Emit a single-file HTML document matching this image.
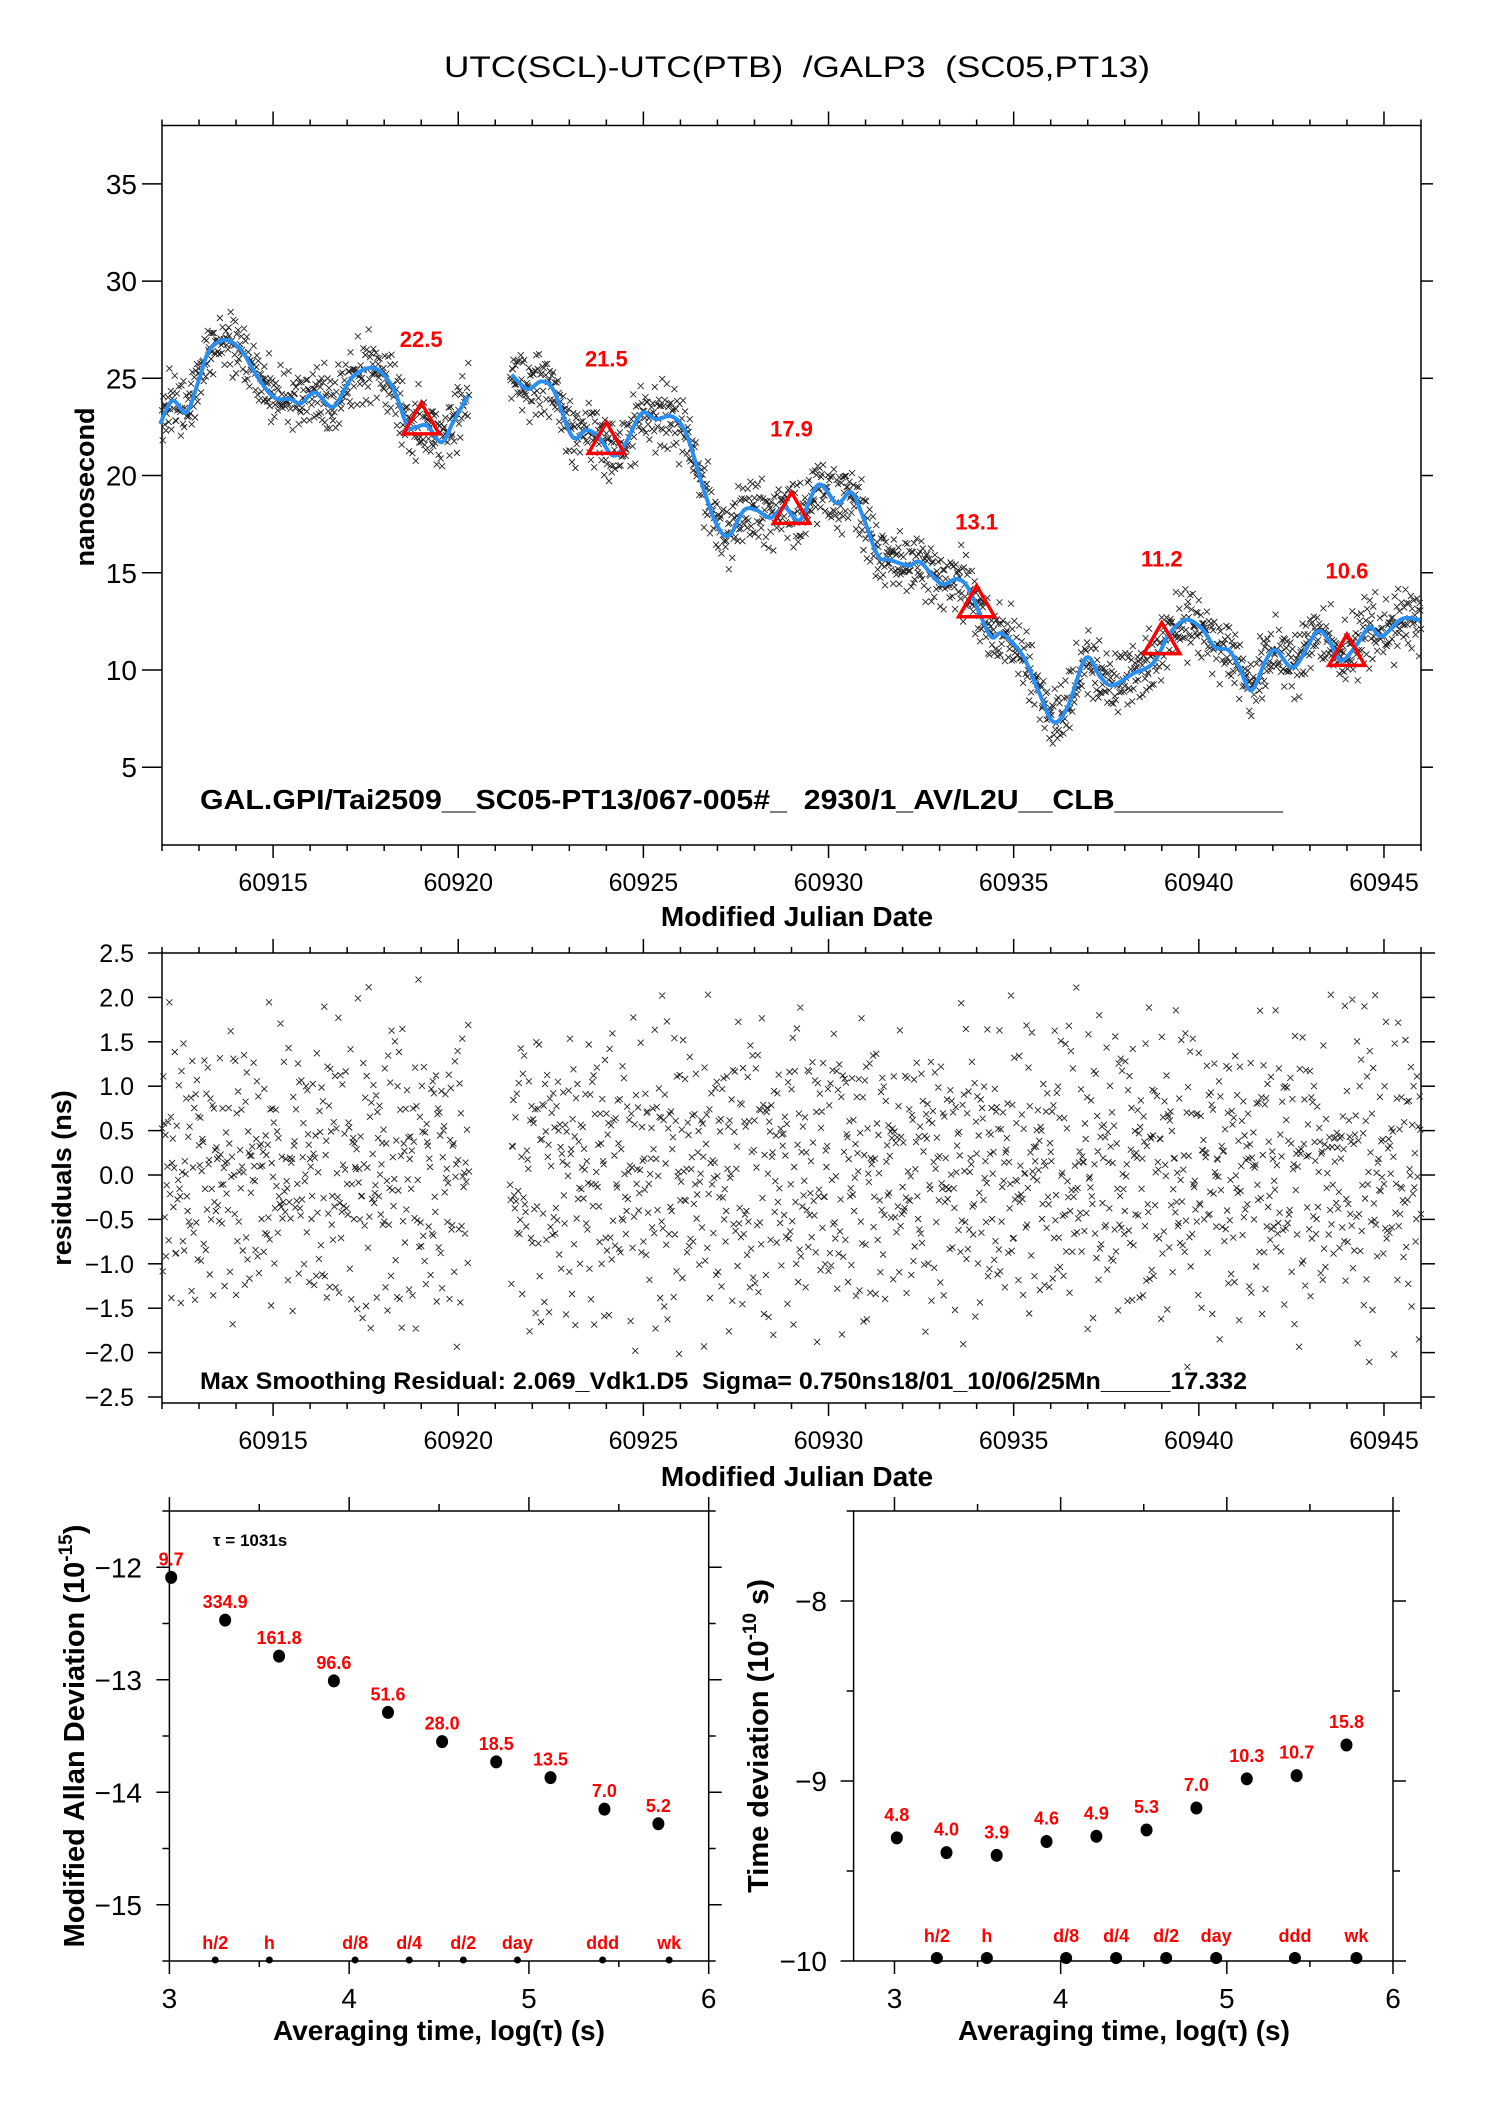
<!DOCTYPE html>
<html><head><meta charset="utf-8"><title>UTC(SCL)-UTC(PTB) GALP3</title>
<style>
html,body{margin:0;padding:0;background:#fff;}
svg{display:block;font-family:"Liberation Sans",Arial,sans-serif;}
.tk{fill:#000;}
.bt{font-weight:bold;fill:#000;}
.rd{font-weight:bold;fill:#ff0000;}
</style></head>
<body>
<svg id="fig" width="1488" height="2105" viewBox="0 0 1488 2105" xmlns="http://www.w3.org/2000/svg">
<rect x="0" y="0" width="1488" height="2105" fill="#fff"/>
<text x="797" y="77" font-size="30" text-anchor="middle" xml:space="preserve" textLength="706" lengthAdjust="spacingAndGlyphs">UTC(SCL)-UTC(PTB)  /GALP3  (SC05,PT13)</text>

<g id="topPanel"></g>
<g id="resPanel"></g>
<g id="mdevPanel"></g>
<g id="tdevPanel"></g>

<text class="bt" font-size="27" transform="translate(94,487) rotate(-90)" text-anchor="middle">nanosecond</text>
<text class="bt" font-size="28" x="797" y="926" text-anchor="middle">Modified Julian Date</text>
<text class="bt" font-size="28" x="200" y="809" xml:space="preserve" textLength="1083" lengthAdjust="spacingAndGlyphs">GAL.GPI/Tai2509__SC05-PT13/067-005#_  2930/1_AV/L2U__CLB__________</text>

<text class="bt" font-size="27" transform="translate(71,1178) rotate(-90)" text-anchor="middle">residuals (ns)</text>
<text class="bt" font-size="28" x="797" y="1486" text-anchor="middle">Modified Julian Date</text>
<text class="bt" font-size="24" x="200" y="1389" xml:space="preserve" textLength="1047" lengthAdjust="spacingAndGlyphs">Max Smoothing Residual: 2.069_Vdk1.D5  Sigma= 0.750ns18/01_10/06/25Mn_____17.332</text>

<text class="bt" font-size="29" transform="translate(84,1736) rotate(-90)" text-anchor="middle">Modified Allan Deviation (10<tspan font-size="19" dy="-12">-15</tspan><tspan dy="12">)</tspan></text>
<text class="bt" font-size="28" x="439" y="2040" text-anchor="middle">Averaging time, log(τ) (s)</text>
<text class="bt" font-size="17" x="213" y="1546">τ = 1031s</text>

<text class="bt" font-size="29" transform="translate(768,1736) rotate(-90)" text-anchor="middle">Time deviation (10<tspan font-size="19" dy="-12">-10</tspan><tspan dy="12"> s)</tspan></text>
<text class="bt" font-size="28" x="1124" y="2040" text-anchor="middle">Averaging time, log(τ) (s)</text>
</svg>

<script>
const curveMjdA = [60911.95,60912.28,60912.66,60912.99,60913.27,60913.71,60914.15,60914.59,60915.03,60915.47,60915.75,60916.13,60916.63,60917.13,60917.73,60918.23,60918.62,60918.83,60919.16,60919.55,60919.88,60920.27];
const curveValA = [22.65,23.85,23.25,24.88,26.42,26.97,26.42,25.04,24.02,23.93,23.71,24.27,23.54,25.04,25.52,24.53,22.56,22.48,22.56,21.71,22.82,24.10];
const curveMjdB = [60921.45,60921.87,60922.25,60922.58,60923.08,60923.46,60923.80,60924.18,60924.51,60924.95,60925.34,60925.78,60926.16,60926.61,60926.99,60927.32,60927.71,60928.04,60928.43,60928.81,60929.23,60929.73,60930.23,60930.61,60930.94,60931.33,60931.66,60932.16,60932.48,60933.04,60933.48,60933.81,60934.36,60934.69,60935.24,60935.68,60936.07,60936.46,60936.95,60937.34,60937.67,60938.22,60938.77,60939.21,60939.65,60940.09,60940.43,60940.81,60941.09,60941.42,60941.80,60942.08,60942.57,60943.18,60943.51,60943.84,60944.22,60944.61,60944.94,60945.49,60945.99];
const curveValB = [25.18,24.45,24.84,24.36,22.00,22.34,21.97,21.03,21.62,23.19,22.90,23.03,22.14,19.40,17.43,16.92,18.20,18.24,17.83,18.37,17.72,19.53,18.57,19.14,17.85,15.89,15.66,15.37,15.54,14.43,14.68,14.09,11.78,11.87,10.75,8.87,7.33,8.10,10.62,9.64,9.21,9.81,10.36,11.87,12.58,12.12,11.18,11.01,10.15,8.95,10.46,11.01,10.15,11.95,11.52,10.49,11.18,12.20,11.73,12.63,12.55];
const segStart = [60912.0, 60921.4];
const segEnd = [60920.3, 60946.0];
const sampleStepDays = 1/55;
const residuals = [0.3,-0.8,1.2,0.1,-0.4,0.9,-1.5,0.5,-0.1,0.7,-0.6,1.6,-0.2,0.4,-1.1,0.0,0.8,-0.9,0.2,1.1,
-0.3,-1.3,0.6,0.1,-0.7,1.4,-0.5,0.3,-1.8,0.9,0.2,-0.4,1.0,-1.0,0.5,-0.2,1.7,-0.6,0.0,0.4,
-1.2,0.8,-0.3,0.6,-0.9,1.3,0.1,-0.5,0.2,-1.6,0.7,-0.1,1.1,-0.8,0.3,0.5,-0.4,1.5,-1.4,0.0,
0.9,-0.2,-0.7,1.2,0.4,-1.1,0.6,-0.3,1.9,-0.6,0.2,-1.0,0.8,0.1,-0.5,1.4,-1.7,0.3,-0.2,0.7,
-0.9,1.0,0.0,-0.4,0.5,-1.3,1.6,-0.1,0.4,-0.8,1.2,-0.6,0.2,-2.0,0.9,0.3,-0.3,0.6,-1.1,1.1,
0.1,-0.7,1.8,-0.5,0.4,-1.5,0.8,0.0,-0.2,1.3,-0.9,0.5,-0.4,1.0,-1.2,0.2,0.7,-0.6,1.5,-0.1,
-1.0,0.3,0.9,-1.4,0.6,-0.3,1.2,-0.8,0.1,0.4,-1.9,1.0,-0.5,0.2,0.8,-0.7,1.7,-0.2,0.5,-1.1,
0.0,1.4,-0.6,0.3,-1.3,0.7,-0.1,1.1,-0.9,0.6,0.2,-1.6,1.3,-0.4,0.1,0.9,-1.0,0.4,-0.3,1.6,
-0.8,0.5,-1.2,0.0,1.2,-0.5,0.8,-1.7,0.3,0.6,-0.2,1.0,-1.4,0.7,-0.6,0.2,1.9,-0.9,0.4,-0.1,
-1.1,1.5,0.1,-0.7,0.9,-0.4,0.3,-1.5,1.1,-0.2,0.6,-1.0,0.8,0.0,-1.8,1.3,-0.3,0.5,-0.8,1.4,
-0.5,0.2,1.0,-1.2,0.7];
const residualsB = [0.6,-0.9,0.2,1.1,-0.3,-0.7,0.8,-1.2,0.4,0.0,-0.5,1.3,-0.1,0.7,-1.0,0.3,-0.6,0.9,
-0.2,1.0,-1.4,0.5,0.1,-0.8,1.2,-0.4,0.6,-1.1,0.2,0.9,-0.3,-0.9,1.4,0.0,-0.6,0.4,-1.3];
const triMjd = [60919,60924,60929,60934,60939,60944];
const triVal = [22.5,21.5,17.9,13.1,11.2,10.6];
const triLabels = ["22.5","21.5","17.9","13.1","11.2","10.6"];
const topYTicks = [5,10,15,20,25,30,35];
const mjdTicks = [60915,60920,60925,60930,60935,60940,60945];
const resYTicks = [-2.5,-2.0,-1.5,-1.0,-0.5,0.0,0.5,1.0,1.5,2.0,2.5];
const mdevLogTau = [3.01,3.31,3.61,3.915,4.216,4.517,4.818,5.12,5.42,5.72];
const mdevVal = [-12.09,-12.47,-12.79,-13.01,-13.29,-13.55,-13.73,-13.87,-14.15,-14.28];
const mdevLabels = ["9.7","334.9","161.8","96.6","51.6","28.0","18.5","13.5","7.0","5.2"];
const tdevLogTau = [3.014,3.313,3.615,3.915,4.215,4.517,4.817,5.12,5.42,5.72];
const tdevVal = [-9.316,-9.398,-9.413,-9.336,-9.307,-9.272,-9.15,-8.988,-8.97,-8.80];
const tdevLabels = ["4.8","4.0","3.9","4.6","4.9","5.3","7.0","10.3","10.7","15.8"];
const refLogTau = [3.255,3.556,4.033,4.334,4.635,4.936,5.41,5.78];
const refLabels = ["h/2","h","d/8","d/4","d/2","day","ddd","wk"];
const logTicks = [3,4,5,6];
const mdevYTicks = [-12,-13,-14,-15];
const tdevYTicks = [-8,-9,-10];

const NS='http://www.w3.org/2000/svg';
function mk(parent, tag, attrs, name){
  const el=document.createElementNS(NS,tag);
  for(const a in attrs) el.setAttribute(a,attrs[a]);
  
  
  parent.appendChild(el); return el;
}
function line(p,x1,y1,x2,y2,name,w){ return mk(p,'line',{x1:x1,y1:y1,x2:x2,y2:y2,stroke:'#000','stroke-width':w||1.5},name); }
function txt(p,x,y,s,cls,size,anchor,name){
  const t=mk(p,'text',{x:x,y:y,'class':cls,'font-size':size,'text-anchor':anchor||'middle'},name);
  t.textContent=s; return t;
}
function fmtNeg(v,d){ const s=Math.abs(v).toFixed(d); return v<0?'\u2212'+s:s; }
function interp(xs,ys,x){
  if(x<=xs[0]) return ys[0];
  for(let i=1;i<xs.length;i++){ if(x<=xs[i]){ const f=(x-xs[i-1])/(xs[i]-xs[i-1]); return ys[i-1]+f*(ys[i]-ys[i-1]); } }
  return ys[ys.length-1];
}
function smoothPath(pts){
  let d='M'+pts[0][0].toFixed(1)+' '+pts[0][1].toFixed(1);
  for(let i=0;i<pts.length-1;i++){
    const p0=pts[i-1]||pts[i], p1=pts[i], p2=pts[i+1], p3=pts[i+2]||p2;
    const c1x=p1[0]+(p2[0]-p0[0])/6, c1y=p1[1]+(p2[1]-p0[1])/6;
    const c2x=p2[0]-(p3[0]-p1[0])/6, c2y=p2[1]-(p3[1]-p1[1])/6;
    d+=' C'+c1x.toFixed(1)+' '+c1y.toFixed(1)+' '+c2x.toFixed(1)+' '+c2y.toFixed(1)+' '+p2[0].toFixed(1)+' '+p2[1].toFixed(1);
  }
  return d;
}

const PX0=162, PX1=1421;
const xMjd = m => PX0+(m-60912)*(PX1-PX0)/34;
const TY0=125.5, TY1=845;
const yTop = v => TY1-(v-1)*(TY1-TY0)/37;
const RY0=953, RY1=1403;
const yRes = r => RY0+(2.5-r)*88.8;
const LX0=169.4, LX1=708.7, BY0=1511, BY1=1961;
const lx = t => LX0+(t-3)*(LX1-LX0)/3;
const ly = v => BY0+(-11.5-v)*(BY1-BY0)/4;
const RX0=853.6, RX1=1393;
const rx = t => RX0+(t-2.754)*(RX1-RX0)/3.246;
const ry = v => BY0+(-7.5-v)*(BY1-BY0)/2.5;

const sampT=[], sampR=[];
let cnt=0;
for(let s=0;s<segStart.length;s++){
  for(let t=segStart[s]; t<=segEnd[s]; t+=sampleStepDays){
    sampT.push(t);
    sampR.push(residuals[cnt%residuals.length]*0.85+residualsB[cnt%residualsB.length]*0.45);
    cnt++;
  }
}
function curveAt(t){ return t<60921 ? interp(curveMjdA,curveValA,t) : interp(curveMjdB,curveValB,t); }

function mjdFrame(g,y0,y1,prefix){
  mk(g,'rect',{x:PX0,y:y0,width:PX1-PX0,height:y1-y0,fill:'none',stroke:'#000','stroke-width':1.5},prefix+'-plot-frame');
  for(let m=60912;m<=60946;m++){
    const maj=(m%5===0), x=xMjd(m);
    line(g,x,y1,x,y1+(maj?13:6),prefix+'-x-tick');
    line(g,x,y0,x,y0-(maj?14:6),prefix+'-x-tick-top');
  }
  mjdTicks.forEach(m=>txt(g,xMjd(m),y1+46,String(m),'tk',25,'middle',prefix+'-x-tick-label'));
}

const topG=document.getElementById('topPanel');
mjdFrame(topG,TY0,TY1,'top');
topYTicks.forEach(v=>{
  const y=yTop(v);
  line(topG,PX0-20,y,PX0,y,'top-y-tick');
  line(topG,PX1,y,PX1+12,y,'top-y-tick-right');
  txt(topG,137,y+10,String(v),'tk',28,'end','top-y-tick-label');
});
let dTop='';
sampT.forEach((t,i)=>{ const x=xMjd(t), y=yTop(curveAt(t)+sampR[i]); dTop+='M'+(x-3).toFixed(1)+' '+(y-3).toFixed(1)+'l6 6m0 -6l-6 6'; });
mk(topG,'path',{d:dTop,stroke:'#222','stroke-width':0.9,fill:'none'},'measurement-points');
mk(topG,'path',{d:smoothPath(curveMjdA.map((m,i)=>[xMjd(m),yTop(curveValA[i])])),stroke:'#2a8ff0','stroke-width':4,fill:'none','stroke-linejoin':'round'},'smoothed-curve-1');
mk(topG,'path',{d:smoothPath(curveMjdB.map((m,i)=>[xMjd(m),yTop(curveValB[i])])),stroke:'#2a8ff0','stroke-width':4,fill:'none','stroke-linejoin':'round'},'smoothed-curve-2');
triMjd.forEach((m,i)=>{
  const x=xMjd(m), yc=yTop(triVal[i])-7;
  mk(topG,'path',{d:'M'+x+' '+(yc-17)+'L'+(x+18)+' '+(yc+14)+'L'+(x-18)+' '+(yc+14)+'Z',fill:'none',stroke:'#ff0000','stroke-width':3.5},'triangle-marker');
  txt(topG,x,yc-73,triLabels[i],'rd',22,'middle','triangle-value-label');
});

const resG=document.getElementById('resPanel');
mjdFrame(resG,RY0,RY1,'residuals');
resYTicks.forEach(v=>{
  const y=yRes(v);
  line(resG,PX0-14,y,PX0,y,'residuals-y-tick');
  line(resG,PX1,y,PX1+14,y,'residuals-y-tick-right');
  txt(resG,134,y+9,fmtNeg(v,1),'tk',25,'end','residuals-y-tick-label');
});
let dRes='';
sampT.forEach((t,i)=>{ const x=xMjd(t), y=yRes(sampR[i]); dRes+='M'+(x-3).toFixed(1)+' '+(y-3).toFixed(1)+'l6 6m0 -6l-6 6'; });
mk(resG,'path',{d:dRes,stroke:'#222','stroke-width':0.9,fill:'none'},'residual-points');

function stabPanel(g,X0,X1,xs,ys,yTicks,tickLbl,prefix,vals,labs,labOff,refY,refR,refLabOff,tPos){
  mk(g,'rect',{x:X0,y:BY0,width:X1-X0,height:BY1-BY0,fill:'none',stroke:'#000','stroke-width':1.5},prefix+'-plot-frame');
  for(let t=3;t<=6.001;t+=0.5){
    const x=xs(t), maj=Math.abs(t-Math.round(t))<0.01;
    line(g,x,BY0,x,BY0-(maj?14:7),prefix+'-x-tick-top');
    line(g,x,BY1,x,BY1+(maj?13:6),prefix+'-x-tick');
  }
  logTicks.forEach(t=>txt(g,xs(t),2008,String(t),'tk',28,'middle',prefix+'-x-tick-label'));
  for(let v=yTicks[0]+0.5; v>=yTicks[yTicks.length-1]-0.5-0.001; v-=0.5){
    const y=ys(v), maj=Math.abs(v-Math.round(v))<0.01;
    if(y<BY0-0.5||y>BY1+0.5) continue;
    line(g,X0-(maj?13:7),y,X0,y,prefix+'-y-tick');
    line(g,X1,y,X1+(maj?13:7),y,prefix+'-y-tick-right');
  }
  yTicks.forEach(v=>txt(g,tickLbl,ys(v)+10,fmtNeg(v,0),'tk',28,'end',prefix+'-y-tick-label'));
  vals.forEach((v,i)=>{
    mk(g,'ellipse',{cx:xs(tPos[i]),cy:ys(v),rx:6,ry:6.5,fill:'#000'},prefix+'-point');
    txt(g,xs(tPos[i]),ys(v)-labOff,labs[i],'rd',18,'middle',prefix+'-point-label');
  });
  refLogTau.forEach((t,i)=>{
    mk(g,'circle',{cx:xs(t),cy:refY,r:refR,fill:'#000'},prefix+'-reference-dot');
    txt(g,xs(t),refY-refLabOff,refLabels[i],'rd',18,'middle',prefix+'-reference-label');
  });
}
stabPanel(document.getElementById('mdevPanel'),LX0,LX1,lx,ly,mdevYTicks,142,'mdev',mdevVal,mdevLabels,12,BY1-1,3.5,11,mdevLogTau);
stabPanel(document.getElementById('tdevPanel'),RX0,RX1,rx,ry,tdevYTicks,827,'tdev',tdevVal,tdevLabels,17,BY1-3,6,16,tdevLogTau);
</script>
</body></html>
